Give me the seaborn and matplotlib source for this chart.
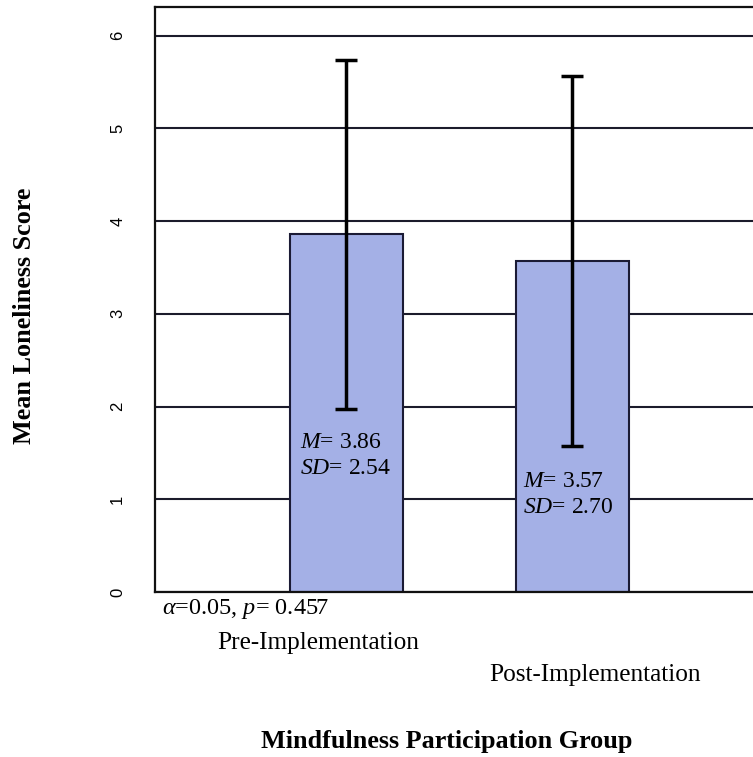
import numpy as np
import pandas as pd
import seaborn as sns
import matplotlib.pyplot as plt
import matplotlib.transforms as mtransforms

# Data
groups = ["Pre-Implementation", "Post-Implementation"]
means = [3.86, 3.57]
sds = [2.54, 2.70]
err_low = [1.97, 1.57]
err_high = [5.74, 5.57]
alpha_level = 0.05
p_value = 0.457
yticks = [0, 1, 2, 3, 4, 5, 6]

df = pd.DataFrame({"group": groups, "mean": means})

sns.set_style("white")
plt.rcParams["font.family"] = ["Liberation Serif", "DejaVu Serif"]
plt.rcParams["mathtext.fontset"] = "custom"
plt.rcParams["mathtext.rm"] = "Liberation Serif"
plt.rcParams["mathtext.it"] = "Liberation Serif:italic"
plt.rcParams["text.color"] = "black"
plt.rcParams["axes.labelcolor"] = "black"
plt.rcParams["ytick.color"] = "black"

W, H = 753, 757
fig = plt.figure(figsize=(W / 100, H / 100), dpi=100)
ax = fig.add_axes([155 / W, (H - 592) / H, 1 - 155 / W, (592 - 7) / H])

sns.barplot(data=df, x="group", y="mean", order=groups, width=0.5,
            color="#a4b0e6", saturation=1, edgecolor="#1b1b35",
            linewidth=1.5, errorbar=None, ax=ax, zorder=2)

m = np.array(means)
yerr = np.vstack([m - np.array(err_low), np.array(err_high) - m])
ax.errorbar(x=np.arange(len(groups)), y=m, yerr=yerr, fmt="none",
            ecolor="black", elinewidth=2.5, capsize=8, capthick=2.5, zorder=3)

ax.set_xlim(-0.845, 1.80)
ax.set_ylim(0, 6.31)
ax.set_yticks(yticks)
ax.tick_params(axis="y", length=9.5, width=1.5, color="#111111", pad=12,
               labelsize=12, labelrotation=90, labelcolor="black",
               labelfontfamily="Liberation Sans")
for lab in ax.get_yticklabels():
    lab.set_va("center")
ax.yaxis.grid(True, color="#1b1b2b", lw=1.5)
ax.set_axisbelow(True)
ax.set_xticks([])
for s in ["left", "top", "bottom"]:
    ax.spines[s].set_color("#111111")
    ax.spines[s].set_linewidth(1.6)
ax.spines["right"].set_visible(False)

# Axis titles
ax.set_ylabel("Mean Loneliness Score", fontsize=18.8, fontweight="bold")
ax.yaxis.set_label_coords(-0.218, 0.472)
ax.yaxis.label.set_va("center")
ax.set_xlabel("Mindfulness Participation Group", fontsize=18.8, fontweight="bold")
ax.xaxis.set_label_coords(0.487, -0.255)
ax.xaxis.label.set_va("center")

# Category labels (staggered)
trans = mtransforms.blended_transform_factory(ax.transData, ax.transAxes)
cat_pos = [(-0.124, -0.087), (1.10, -0.142)]
for name, (cx, cy) in zip(groups, cat_pos):
    ax.text(cx, cy, name, transform=trans, ha="center", va="center",
            fontsize=18.2, clip_on=False)

# Mean / SD annotations inside bars
stat_pos = [(-0.204, 1.61, 1.33), (0.783, 1.19, 0.91)]
for mu, sd, (tx, y1, y2) in zip(means, sds, stat_pos):
    ax.text(tx, y1, r"$\it{M}$= " + f"{mu:.2f}", ha="left", va="center",
            fontsize=17, zorder=4)
    ax.text(tx, y2, r"$\it{SD}$= " + f"{sd:.2f}", ha="left", va="center",
            fontsize=17, zorder=4)

fig.text(162 / W, 1 - 609 / H,
         r"$\alpha$=" + f"{alpha_level}, " + r"$\it{p}$= " + f"{p_value}",
         ha="left", va="center", fontsize=17.5)

fig.savefig("out.png", dpi=100)
